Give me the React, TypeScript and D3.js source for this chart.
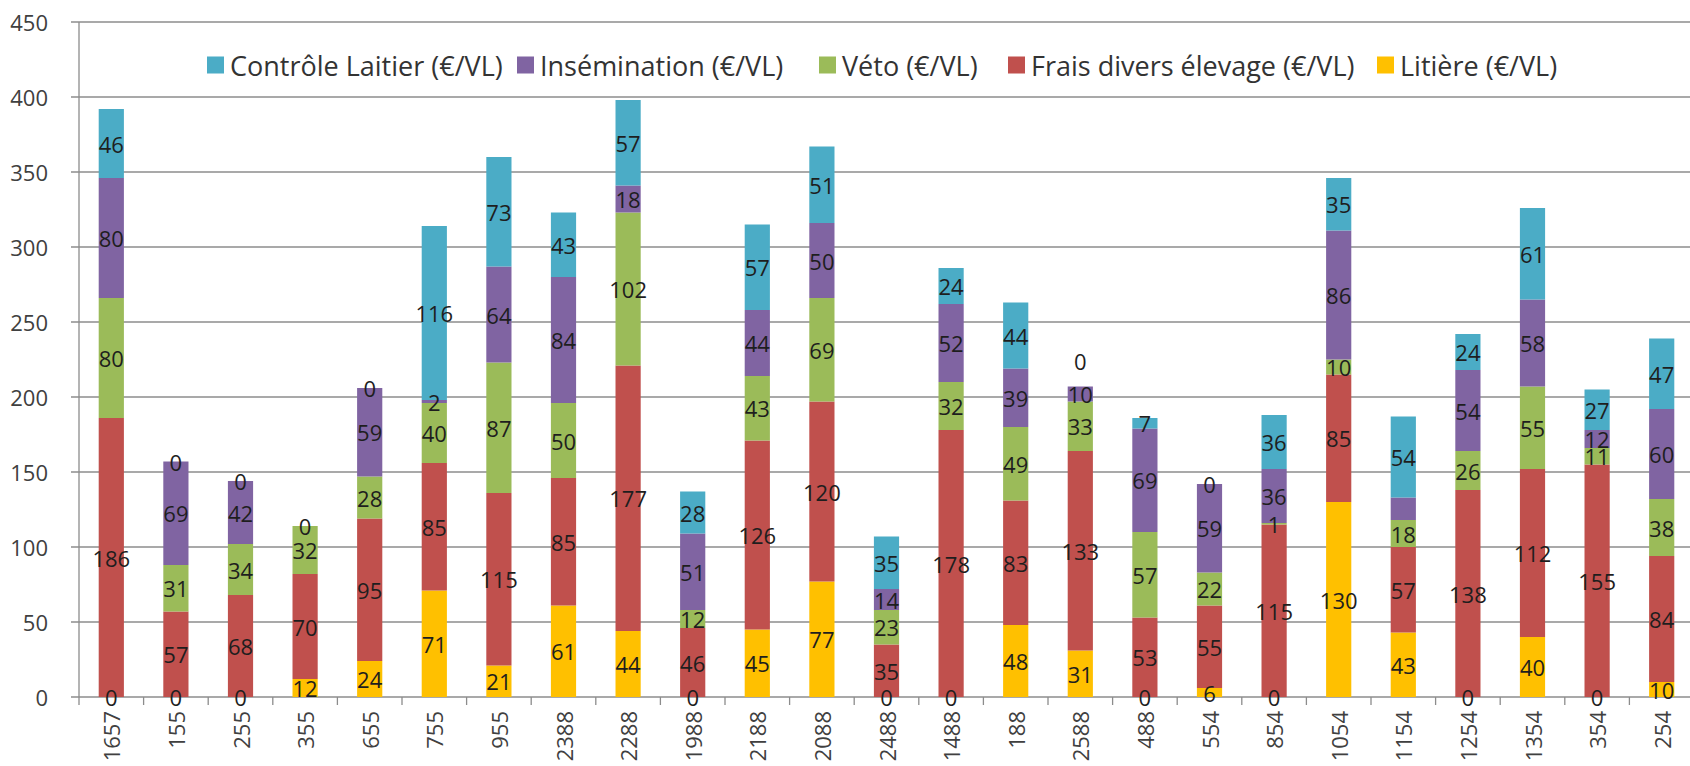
import React from "react";
import * as d3 from "d3";

// herd codes along the x axis
const categories = [
  "1657", "155", "255", "355", "655", "755", "955", "2388", "2288", "1988",
  "2188", "2088", "2488", "1488", "188", "2588", "488", "554", "854", "1054",
  "1154", "1254", "1354", "354", "254",
];

// €/VL per series, bottom to top of the stack (null = empty cell)
const litiere = [0, 0, 0, 12, 24, 71, 21, 61, 44, 0, 45, 77, 0, 0, 48, 31, 0, 6, 0, 130, 43, 0, 40, 0, 10];
const fraisDivers = [186, 57, 68, 70, 95, 85, 115, 85, 177, 46, 126, 120, 35, 178, 83, 133, 53, 55, 115, 85, 57, 138, 112, 155, 84];
const veto = [80, 31, 34, 32, 28, 40, 87, 50, 102, 12, 43, 69, 23, 32, 49, 33, 57, 22, 1, 10, 18, 26, 55, 11, 38];
const insemination = [80, 69, 42, null, 59, 2, 64, 84, 18, 51, 44, 50, 14, 52, 39, 10, 69, 59, 36, 86, 15, 54, 58, 12, 60];
const controleLaitier = [46, 0, 0, 0, 0, 116, 73, 43, 57, 28, 57, 51, 35, 24, 44, 0, 7, 0, 36, 35, 54, 24, 61, 27, 47];

const yTicks = [0, 50, 100, 150, 200, 250, 300, 350, 400, 450];

// labels that the original chart does not show
const hiddenLabels = ["1154|ins"];
// labels that the original chart pushed away from their segment (px)
const labelNudge: Record<string, number> = { "2588|cl": -26 };

const series = [
  { key: "lit", name: "Litière (€/VL)", values: litiere, color: "#FFC000" },
  { key: "frais", name: "Frais divers élevage (€/VL)", values: fraisDivers, color: "#C0504D" },
  { key: "veto", name: "Véto (€/VL)", values: veto, color: "#9BBB59" },
  { key: "ins", name: "Insémination (€/VL)", values: insemination, color: "#8064A2" },
  { key: "cl", name: "Contrôle Laitier (€/VL)", values: controleLaitier, color: "#4BACC6" },
];

const legendOrder = ["cl", "ins", "veto", "frais", "lit"];
const legendX = [207, 517, 819, 1008, 1377];

const W = 1690;
const H = 766;
const left = 79;
const top = 22;
const bottom = 697;
const step = 64.6;
const font = "'Open Sans', Lato, sans-serif";

export default function App() {
  const rows = categories.map((c, i) => {
    const r: any = { cat: c };
    series.forEach((s) => (r[s.key] = s.values[i] ?? 0));
    return r;
  });
  const stacked = d3.stack().keys(series.map((s) => s.key))(rows);

  const x = d3
    .scaleBand()
    .domain(categories)
    .range([left, left + step * categories.length])
    .paddingInner(0.61)
    .paddingOuter(0.305);
  const y = d3.scaleLinear().domain([0, 450]).range([bottom, top]);
  const bw = x.bandwidth();

  return (
    <svg
      width={W}
      height={H}
      style={{ position: "absolute", left: 0, top: 0, background: "#fff" }}
      fontFamily={font}
    >
      {/* gridlines + y ticks */}
      {yTicks.map((t) => (
        <g key={t}>
          <line x1={left - 8} x2={W} y1={y(t)} y2={y(t)} stroke="#8c8c8c" strokeWidth={1.3} />
          <text x={48} y={y(t)} textAnchor="end" dominantBaseline="central" fontSize={22} fill="#404040">
            {t}
          </text>
        </g>
      ))}
      <line x1={left} x2={left} y1={top} y2={bottom} stroke="#8c8c8c" strokeWidth={1.3} />

      {/* x ticks */}
      {d3.range(categories.length + 1).map((i) => (
        <line
          key={i}
          x1={left + i * step}
          x2={left + i * step}
          y1={bottom}
          y2={bottom + 8}
          stroke="#8c8c8c"
          strokeWidth={1.3}
        />
      ))}
      {categories.map((c) => (
        <text
          key={c}
          transform={`translate(${x(c)! + bw / 2},${bottom + 14}) rotate(-90)`}
          textAnchor="end"
          dominantBaseline="central"
          fontSize={22}
          fill="#404040"
        >
          {c}
        </text>
      ))}

      {/* bars */}
      {stacked.map((layer, li) => (
        <g key={layer.key} fill={series[li].color}>
          {layer.map((d, i) => (
            <rect
              key={i}
              x={x(categories[i])}
              y={y(d[1])}
              width={bw}
              height={Math.max(0, y(d[0]) - y(d[1]))}
            />
          ))}
        </g>
      ))}

      {/* data labels */}
      {stacked.map((layer, li) =>
        layer.map((d, i) => {
          const v = series[li].values[i];
          const id = categories[i] + "|" + layer.key;
          if (v === null || hiddenLabels.includes(id)) return null;
          return (
            <text
              key={id}
              x={x(categories[i])! + bw / 2}
              y={y((d[0] + d[1]) / 2) + (labelNudge[id] ?? 0)}
              textAnchor="middle"
              dominantBaseline="central"
              fontSize={22}
              fill="#1e1e1e"
            >
              {v}
            </text>
          );
        })
      )}

      {/* legend */}
      {legendOrder.map((k, i) => {
        const s = series.find((d) => d.key === k)!;
        return (
          <g key={k} transform={`translate(${legendX[i]},65)`}>
            <rect x={0} y={-8.5} width={17} height={17} fill={s.color} />
            <text x={23} y={0} dominantBaseline="central" fontSize={27} fill="#333">
              {s.name}
            </text>
          </g>
        );
      })}
    </svg>
  );
}
